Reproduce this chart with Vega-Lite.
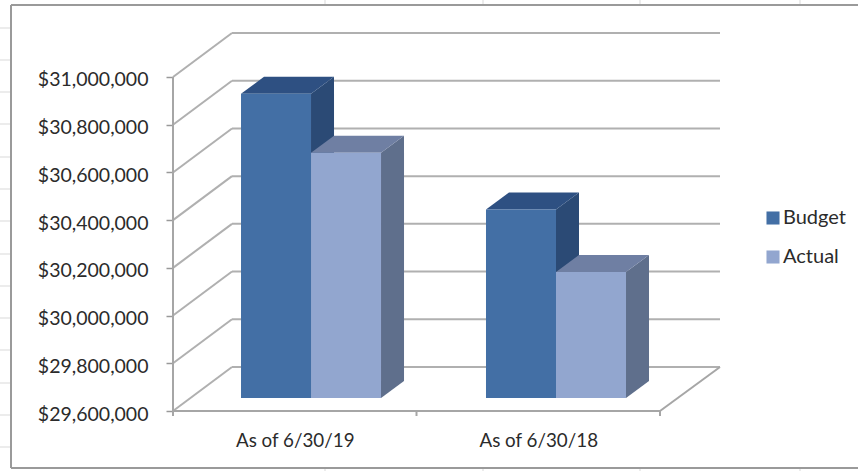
{
"$schema":"https://vega.github.io/schema/vega-lite/v6.json",
"width":858,"height":471,"padding":0,"autosize":{"type":"none"},"background":"white",
"config":{"view":{"stroke":null},"font":"Lato"},
"data":{"values":[
{"period":"As of 6/30/19","series":"Budget","value":30875000},
{"period":"As of 6/30/19","series":"Actual","value":30628000},
{"period":"As of 6/30/18","series":"Budget","value":30390000},
{"period":"As of 6/30/18","series":"Actual","value":30128000}
]},
"transform":[
{"calculate":"indexof(['As of 6/30/19','As of 6/30/18'],datum.period)","as":"g"},
{"calculate":"datum.series==='Budget'?0:1","as":"s"},
{"calculate":"datum.period+datum.series","as":"id"},
{"calculate":"0.2793+1.0061*datum.g+0.2875*datum.s","as":"x0"},
{"calculate":"datum.x0+0.2875","as":"x1"},
{"calculate":"datum.value+54491","as":"top"},
{"calculate":"29654491","as":"base"}
],
"encoding":{
"x":{"field":"x","type":"quantitative","scale":{"domain":[-0.71047,2.81314],"nice":false,"zero":false},
"axis":{"orient":"bottom","offset":-60,"values":[0.5,1.5],"title":null,"grid":false,"domain":false,"ticks":false,"labelPadding":20,"labelFontSize":18.8,"labelColor":"#2b2b2b","labelExpr":"datum.value<1?'As of 6/30/19':'As of 6/30/18'"}},
"y":{"field":"y","type":"quantitative","scale":{"domain":[29348503,31322754],"nice":false,"zero":false},
"axis":{"orient":"left","offset":-173,"values":[29600000,29800000,30000000,30200000,30400000,30600000,30800000,31000000],"format":"$,.0f","title":null,"grid":false,"domain":false,"tickSize":7,"tickColor":"#999999","tickWidth":1.5,"labelPadding":18,"labelFontSize":19.5,"labelOffset":3,"labelColor":"#2b2b2b"}}
},
"layer":[
{"data":{"values":[
{"x":-0.71047,"x2":-0.6653,"y":31205389,"y2":31205389},{"x":-0.71047,"x2":-0.6653,"y":31071258,"y2":31071258},
{"x":-0.71047,"x2":-0.6653,"y":30937126,"y2":30937126},{"x":-0.71047,"x2":-0.6653,"y":30802994,"y2":30802994},
{"x":-0.71047,"x2":-0.6653,"y":30664671,"y2":30664671},{"x":-0.71047,"x2":-0.6653,"y":30530539,"y2":30530539},
{"x":-0.71047,"x2":-0.6653,"y":30396407,"y2":30396407},{"x":-0.71047,"x2":-0.6653,"y":30258084,"y2":30258084},
{"x":-0.71047,"x2":-0.6653,"y":30123952,"y2":30123952},{"x":-0.71047,"x2":-0.6653,"y":29989820,"y2":29989820},
{"x":-0.71047,"x2":-0.6653,"y":29855689,"y2":29855689},{"x":-0.71047,"x2":-0.6653,"y":29717365,"y2":29717365},
{"x":-0.71047,"x2":-0.6653,"y":29583234,"y2":29583234},{"x":-0.71047,"x2":-0.6653,"y":29449102,"y2":29449102},
{"x":0.6242,"x2":0.6242,"y":31322754,"y2":31301796},{"x":1.2731,"x2":1.2731,"y":31322754,"y2":31301796},
{"x":1.9179,"x2":1.9179,"y":31322754,"y2":31301796},{"x":2.5749,"x2":2.5749,"y":31322754,"y2":31301796},
{"x":0.6242,"x2":0.6242,"y":29361078,"y2":29348503},{"x":1.2731,"x2":1.2731,"y":29361078,"y2":29348503},
{"x":1.9179,"x2":1.9179,"y":29361078,"y2":29348503},{"x":2.5749,"x2":2.5749,"y":29361078,"y2":29348503}
]},
"mark":{"type":"rule","stroke":"#e6e6e6","strokeWidth":1.5},
"encoding":{"x2":{"field":"x2"},"y2":{"field":"y2"}}},
{"data":{"values":[
{"x":-0.6653,"x2":-0.6653,"y":29361078,"y2":31301796},
{"x":-0.6653,"x2":2.81314,"y":31301796,"y2":31301796},
{"x":-0.6653,"x2":2.81314,"y":29361078,"y2":29361078}
]},
"mark":{"type":"rule","stroke":"#9a9a9a","strokeWidth":2},
"encoding":{"x2":{"field":"x2"},"y2":{"field":"y2"}}},
{"data":{"values":[{"tick":29600000},{"tick":29800000},{"tick":30000000},{"tick":30200000},{"tick":30400000},{"tick":30600000},{"tick":30800000},{"tick":31000000}]},
"transform":[{"calculate":"0","as":"x"},{"calculate":"0.2423","as":"x2"},{"calculate":"datum.tick","as":"y"},{"calculate":"datum.tick+184431","as":"y2"}],
"mark":{"type":"rule","stroke":"#b0b0b0","strokeWidth":2},
"encoding":{"x2":{"field":"x2"},"y2":{"field":"y2"}}},
{"data":{"values":[{"tick":29600000},{"tick":29800000},{"tick":30000000},{"tick":30200000},{"tick":30400000},{"tick":30600000},{"tick":30800000},{"tick":31000000}]},
"transform":[{"calculate":"0.2423","as":"x"},{"calculate":"2.2464","as":"x2"},{"calculate":"datum.tick+184431","as":"y"},{"calculate":"datum.tick+184431","as":"y2"}],
"mark":{"type":"rule","stroke":"#b0b0b0","strokeWidth":2},
"encoding":{"x2":{"field":"x2"},"y2":{"field":"y2"}}},
{"data":{"values":[
{"x":0,"x2":0,"y":29600000,"y2":31000000},
{"x":0,"x2":2,"y":29600000,"y2":29600000},
{"x":2,"x2":2.2464,"y":29600000,"y2":29784431},
{"x":0,"x2":0,"y":29600000,"y2":29579042},
{"x":1,"x2":1,"y":29600000,"y2":29579042},
{"x":2,"x2":2,"y":29600000,"y2":29579042}
]},
"mark":{"type":"rule","stroke":"#a6a6a6","strokeWidth":2},
"encoding":{"x2":{"field":"x2"},"y2":{"field":"y2"}}},
{"transform":[
{"calculate":"[0,1]","as":"t"},{"flatten":["t"]},
{"calculate":"datum.x1+datum.t*0.09446","as":"x"},
{"calculate":"datum.top+datum.t*71257","as":"y"},
{"calculate":"datum.base+datum.t*71257","as":"y2"}],
"mark":{"type":"area","orient":"vertical"},
"encoding":{"y2":{"field":"y2"},"detail":{"field":"id"},
"fill":{"condition":{"test":"datum.series==='Budget'","value":"#2b4a75"},"value":"#5f6f8c"}}},
{"transform":[
{"calculate":"[0,1]","as":"t"},{"flatten":["t"]},
{"calculate":"datum.x0+datum.t*0.09446","as":"x"},
{"calculate":"datum.x1+datum.t*0.09446","as":"x2"},
{"calculate":"datum.top+datum.t*71257","as":"y"}],
"mark":{"type":"area","orient":"horizontal"},
"encoding":{"x2":{"field":"x2"},"detail":{"field":"id"},
"fill":{"condition":{"test":"datum.series==='Budget'","value":"#2e5082"},"value":"#6f7fa3"}}},
{"transform":[
{"calculate":"datum.x0","as":"x"},{"calculate":"datum.x1","as":"x2"},
{"calculate":"datum.top","as":"y"},{"calculate":"datum.base","as":"y2"}],
"mark":{"type":"rect"},
"encoding":{"x2":{"field":"x2"},"y2":{"field":"y2"},
"color":{"field":"series","type":"nominal","scale":{"domain":["Budget","Actual"],"range":["#436fa5","#92a6cf"]},
"legend":{"title":null,"orient":"none","legendX":763,"legendY":208,"symbolType":"square","symbolSize":170,"symbolStrokeWidth":0,"labelFontSize":20,"labelColor":"#2b2b2b","labelOffset":0,"rowPadding":19}}}}
]
}
